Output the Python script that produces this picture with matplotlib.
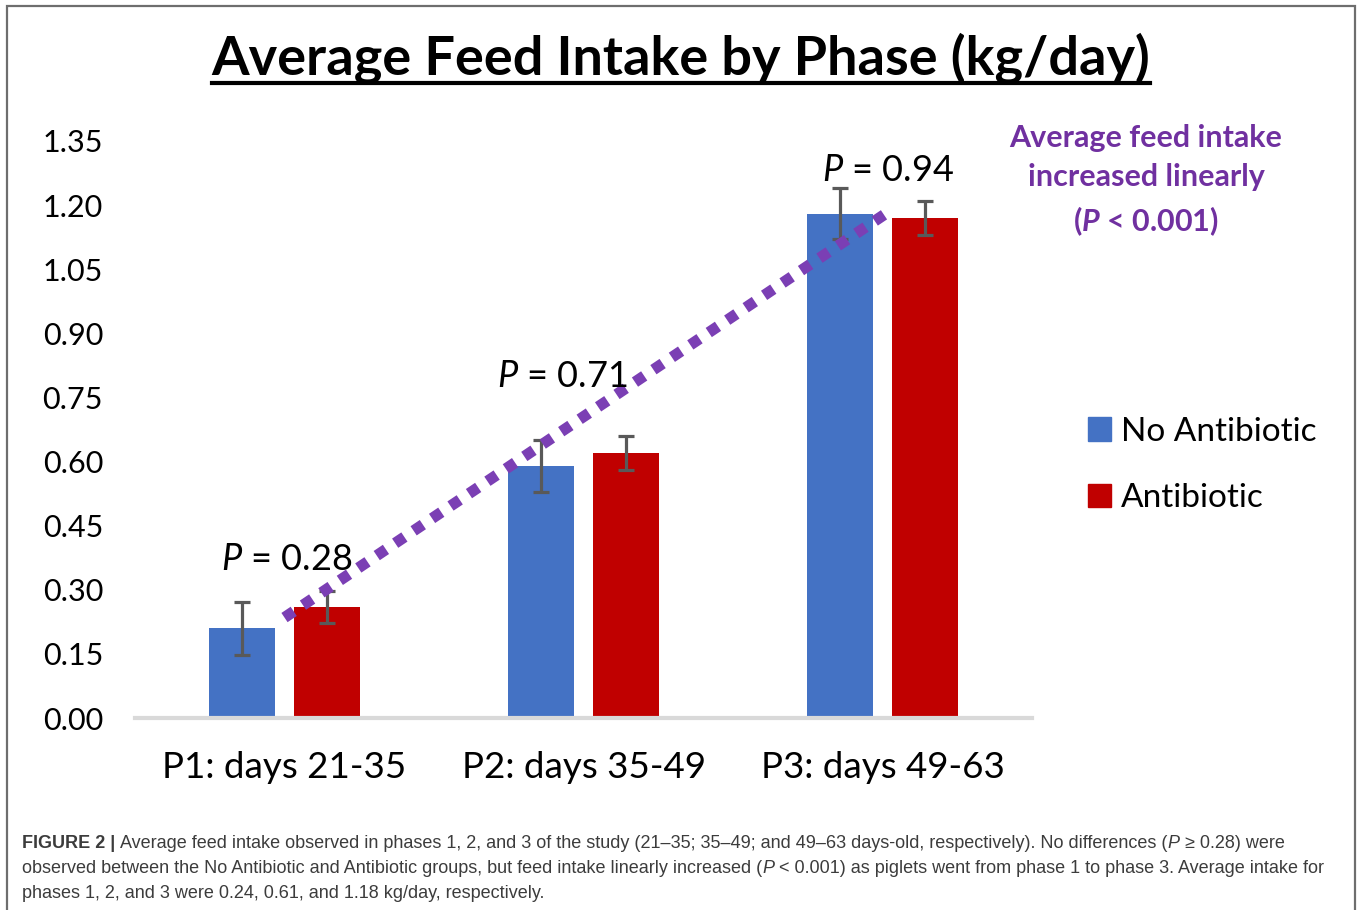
import numpy as np
import matplotlib
matplotlib.use("Agg")
import matplotlib.pyplot as plt
from matplotlib.patches import Rectangle, Patch
from matplotlib.lines import Line2D

# data
phases = ["P1: days 21-35", "P2: days 35-49", "P3: days 49-63"]
no_abx = [0.21, 0.59, 1.18]
no_abx_err = [0.062, 0.061, 0.060]
abx = [0.26, 0.62, 1.17]
abx_err = [0.038, 0.040, 0.039]
p_values = ["0.28", "0.71", "0.94"]
y_ticks = [0.00, 0.15, 0.30, 0.45, 0.60, 0.75, 0.90, 1.05, 1.20, 1.35]

W, H = 1358, 910

plt.rcParams['font.family'] = ['Lato', 'DejaVu Sans']
plt.rcParams['mathtext.fontset'] = 'custom'
plt.rcParams['mathtext.rm'] = 'Lato'
plt.rcParams['mathtext.it'] = 'Lato:italic'
plt.rcParams['mathtext.bf'] = 'Lato:bold'
plt.rcParams['mathtext.bfit'] = 'Lato:italic:bold'

cap_font, cap_size = 'Liberation Sans', 13.0

fig = plt.figure(figsize=(W / 100, H / 100), dpi=100)
ax = fig.add_axes([135 / W, 1 - 718 / H, 897 / W, 577 / H])

x = np.arange(len(phases))
bw = 0.22
off = 0.142
ax.bar(x - off, no_abx, bw, color='#4472C4', label='No Antibiotic', zorder=2)
ax.bar(x + off, abx, bw, color='#C00000', label='Antibiotic', zorder=2)
ax.errorbar(x - off, no_abx, yerr=no_abx_err, fmt='none', ecolor='#595959',
            elinewidth=2.3, capsize=6, capthick=2.3, zorder=3)
ax.errorbar(x + off, abx, yerr=abx_err, fmt='none', ecolor='#595959',
            elinewidth=2.3, capsize=6, capthick=2.3, zorder=3)

# linear trend through the phase means
means = (np.array(no_abx) + np.array(abx)) / 2
slope = (means[-1] - means[0]) / (len(means) - 1)
tx = np.array([0.0, 2.03])
ax.plot(tx, means[0] + slope * tx, color='#7B3FB4', lw=8, linestyle=(0, (1, 1)),
        dash_capstyle='butt', zorder=4)

ax.set_xlim(-0.5, 2.5)
ax.set_ylim(0, 1.35)
ax.set_yticks(y_ticks)
ax.set_yticklabels([f"{v:.2f}" for v in y_ticks], fontsize=22)
ax.set_xticks(x)
ax.set_xticklabels(phases, fontsize=26.5)
ax.tick_params(axis='y', length=0, pad=23)
ax.tick_params(axis='x', length=0, pad=24)
for s in ['top', 'right', 'left']:
    ax.spines[s].set_visible(False)
ax.spines['bottom'].set_color('#D9D9D9')
ax.spines['bottom'].set_linewidth(3)

# P-value labels above each phase
p_pos = [(0.008, 0.37), (0.928, 0.80), (2.018, 1.282)]
for (px, py), p in zip(p_pos, p_values):
    ax.text(px, py, r"$\mathit{P}$ = " + p, fontsize=26, ha='center', va='center', zorder=5)

fig.text(1146 / W, 1 - 181 / H, "Average feed intake\nincreased linearly\n($\\mathbfit{P}$ < 0.001)",
         fontsize=22, fontweight='bold', color='#7030A0', ha='center', va='center',
         linespacing=1.5)

handles = [Patch(color='#4472C4'), Patch(color='#C00000')]
fig.legend(handles, ['No Antibiotic', 'Antibiotic'], loc='center left',
           bbox_to_anchor=(1058 / W, 1 - 465 / H), frameon=False, fontsize=24,
           handlelength=0.7, handleheight=0.7, handletextpad=0.3, labelspacing=1.1)

# title with underline
title = fig.text(681 / W, 1 - 75 / H, "Average Feed Intake by Phase (kg/day)",
                 fontsize=39, fontweight='bold', ha='center', va='baseline')
renderer = fig.canvas.get_renderer()
tb = title.get_window_extent(renderer)
fig.add_artist(Line2D([tb.x0 / W, tb.x1 / W], [1 - 83 / H, 1 - 83 / H],
                      color='black', lw=3, transform=fig.transFigure))

# border round the figure
fig.add_artist(Rectangle((7 / W, -0.05), 1348 / W, 1.05 - 6.5 / H, fill=False,
                         edgecolor='#6E6E6E', lw=1.6, transform=fig.transFigure))


def advance(s, **kw):
    t = fig.text(0, 0, s + "|", **kw)
    b = fig.text(0, 0, "|", **kw)
    w = t.get_window_extent(renderer).width - b.get_window_extent(renderer).width
    t.remove()
    b.remove()
    return w


def text_runs(x_px, y_px, runs):
    for s, weight, style in runs:
        kw = dict(family=cap_font, fontsize=cap_size, fontweight=weight,
                  fontstyle=style, color='#3C3C3C')
        fig.text(x_px / W, 1 - y_px / H, s, va='baseline', ha='left', **kw)
        x_px += advance(s, **kw)


caption = [
    [("FIGURE 2 | ", 'bold', 'normal'),
     ("Average feed intake observed in phases 1, 2, and 3 of the study (21–35; 35–49; and 49–63 days-old, respectively). No differences (", 'normal', 'normal'),
     ("P", 'normal', 'italic'),
     (" ≥ 0.28) were", 'normal', 'normal')],
    [("observed between the No Antibiotic and Antibiotic groups, but feed intake linearly increased (", 'normal', 'normal'),
     ("P", 'normal', 'italic'),
     (" < 0.001) as piglets went from phase 1 to phase 3. Average intake for", 'normal', 'normal')],
    [("phases 1, 2, and 3 were 0.24, 0.61, and 1.18 kg/day, respectively.", 'normal', 'normal')],
]
for i, runs in enumerate(caption):
    text_runs(22, 848 + 25 * i, runs)

fig.savefig("out.png", dpi=100)
